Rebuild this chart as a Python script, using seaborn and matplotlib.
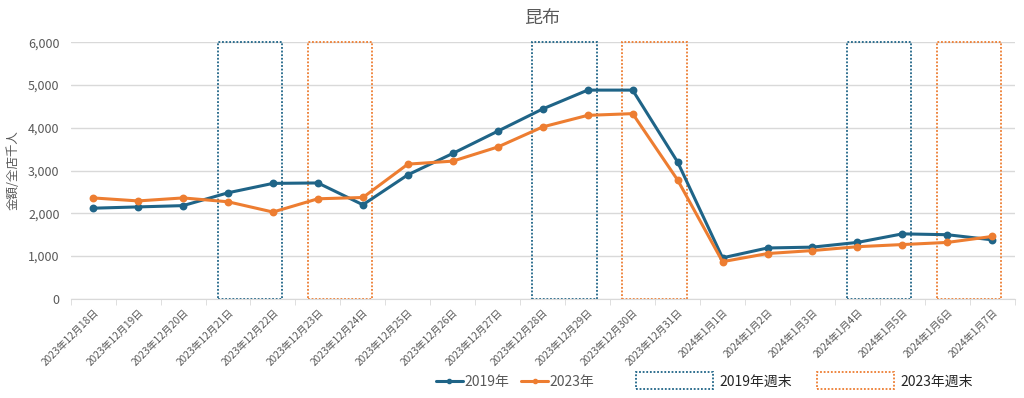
import pandas as pd
import matplotlib.pyplot as plt
import seaborn as sns
from matplotlib.patches import Rectangle
from matplotlib.lines import Line2D

# Data
dates = ['2023年12月18日', '2023年12月19日', '2023年12月20日', '2023年12月21日',
         '2023年12月22日', '2023年12月23日', '2023年12月24日', '2023年12月25日',
         '2023年12月26日', '2023年12月27日', '2023年12月28日', '2023年12月29日',
         '2023年12月30日', '2023年12月31日', '2024年1月1日', '2024年1月2日',
         '2024年1月3日', '2024年1月4日', '2024年1月5日', '2024年1月6日', '2024年1月7日']
sales_2019 = [2120, 2150, 2180, 2480, 2700, 2710, 2200, 2900, 3400, 3920, 4440,
              4880, 4880, 3200, 960, 1190, 1210, 1320, 1520, 1500, 1380]
sales_2023 = [2360, 2290, 2360, 2270, 2030, 2340, 2370, 3150, 3220, 3550, 4020,
              4290, 4330, 2780, 870, 1060, 1130, 1220, 1270, 1320, 1460]
weekend_2019 = [('2023年12月21日', '2023年12月22日'), ('2023年12月28日', '2023年12月29日'),
                ('2024年1月4日', '2024年1月5日')]
weekend_2023 = [('2023年12月23日', '2023年12月24日'), ('2023年12月30日', '2023年12月31日'),
                ('2024年1月6日', '2024年1月7日')]

blue = '#1F6487'
orange = '#ED7D31'
grey = '#595959'

df = pd.DataFrame({
    'date': dates * 2,
    'value': sales_2019 + sales_2023,
    'year': ['2019年'] * len(dates) + ['2023年'] * len(dates),
})

sns.set_style('white')
plt.rcParams['font.family'] = ['Noto Sans CJK JP', 'DejaVu Sans']

fig = plt.figure(figsize=(10.24, 3.98), dpi=100)
ax = fig.add_axes([0.069, 0.249, 0.922, 0.645])

sns.pointplot(data=df, x='date', y='value', hue='year', order=dates,
              palette={'2019年': blue, '2023年': orange}, markers='o',
              markersize=4, linewidth=2.2, legend=False, ax=ax)

# weekend boxes
for pairs, col in [(weekend_2019, blue), (weekend_2023, orange)]:
    for a, b in pairs:
        i0 = dates.index(a) - 0.23
        i1 = dates.index(b) + 0.2
        ax.add_patch(Rectangle((i0, 0), i1 - i0, 6000, fill=False, edgecolor=col,
                               linestyle=(0, (1, 1)), linewidth=1.3, clip_on=False, zorder=1))

ax.set_xlim(-0.5, len(dates) - 0.5)
ax.set_ylim(0, 6000)
ax.set_yticks(range(0, 6001, 1000))
ax.set_yticklabels([f'{v:,}' for v in range(0, 6001, 1000)], fontsize=9, color=grey)
ax.yaxis.grid(True, color='#D9D9D9', linewidth=1)
ax.set_axisbelow(True)
ax.tick_params(axis='y', length=0, pad=8)

ax.set_xticks(range(len(dates)))
ax.set_xticklabels(dates, rotation=45, ha='right', rotation_mode='anchor',
                   fontsize=7.3, color=grey)
ax.set_xticks([i - 0.5 for i in range(len(dates) + 1)], minor=True)
ax.tick_params(axis='x', which='major', length=0, pad=6)
ax.tick_params(axis='x', which='minor', length=4, color='#D9D9D9', bottom=True)

for s in ['top', 'right', 'left']:
    ax.spines[s].set_visible(False)
ax.spines['bottom'].set_color('#D9D9D9')

ax.set_xlabel('')
ax.set_ylabel('金額/全店千人', fontsize=9, color=grey, labelpad=6)
ax.set_title('昆布', fontsize=13, color=grey, pad=14)

# legends
line_handles = [Line2D([], [], color=blue, marker='o', markersize=3, linewidth=2.2),
                Line2D([], [], color=orange, marker='o', markersize=3, linewidth=2.2)]
leg1 = fig.legend(line_handles, ['2019年', '2023年'], loc='center', ncol=2,
                  bbox_to_anchor=(0.503, 0.04), frameon=False, fontsize=10,
                  handlelength=2, handletextpad=0.1, columnspacing=0.8, labelcolor=grey)

box_handles = [Rectangle((0, 0), 1, 1, fill=False, edgecolor=blue, linestyle=(0, (1, 1)), linewidth=1.3),
               Rectangle((0, 0), 1, 1, fill=False, edgecolor=orange, linestyle=(0, (1, 1)), linewidth=1.3)]
leg2 = fig.legend(box_handles, ['2019年週末', '2023年週末'], loc='center', ncol=2,
                  bbox_to_anchor=(0.786, 0.043), frameon=False, fontsize=10,
                  handlelength=5.5, handleheight=1.5, handletextpad=0.5, columnspacing=1.8)

fig.savefig('out.png', dpi=100)
